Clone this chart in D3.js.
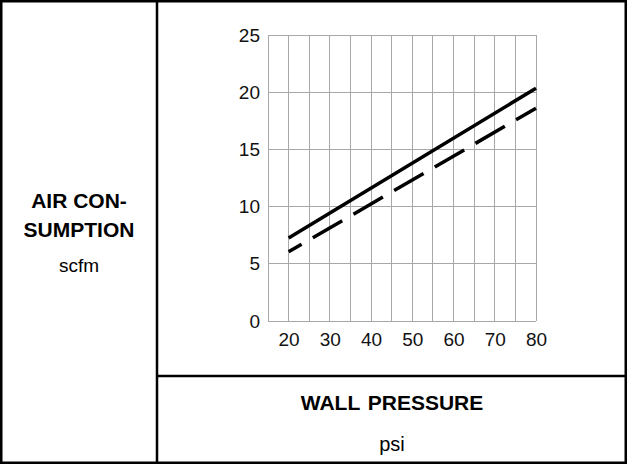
<!DOCTYPE html>
<html>
<head>
<meta charset="utf-8">
<script src="https://cdn.jsdelivr.net/npm/d3@7"></script>
<style>
  body { margin: 0; background: #fff; }
  svg { display: block; font-family: "Liberation Sans", Arial, sans-serif; }
</style>
</head>
<body>
<svg id="chart" width="627" height="464"></svg>
<script>
// data
var pressure = [20, 80];
var solidSeries = [7.25, 20.35];
var dashedSeries = [6.05, 18.6];
var xTicks = [20, 30, 40, 50, 60, 70, 80];
var yTicks = [0, 5, 10, 15, 20, 25];
var xGrid = d3.range(15, 81, 5);

var width = 627, height = 464;
var svg = d3.select('#chart');

var x = d3.scaleLinear().domain([15, 80]).range([268, 536]);
var y = d3.scaleLinear().domain([0, 25]).range([321, 35]);

// grid
var grid = svg.append('g')
  .attr('stroke', '#a8a8a8')
  .attr('stroke-width', 1)
  .attr('shape-rendering', 'crispEdges');

grid.selectAll('line.v')
  .data(xGrid)
  .enter().append('line')
    .attr('class', 'v')
    .attr('x1', d => x(d)).attr('x2', d => x(d))
    .attr('y1', y(0)).attr('y2', y(25));

grid.selectAll('line.h')
  .data(yTicks)
  .enter().append('line')
    .attr('class', 'h')
    .attr('x1', x(15)).attr('x2', x(80))
    .attr('y1', d => y(d)).attr('y2', d => y(d));

// axes (labels only)
var yAxis = svg.append('g')
  .attr('transform', 'translate(' + x(15) + ',0)')
  .call(d3.axisLeft(y).tickValues(yTicks).tickSize(0).tickPadding(8));

var xAxis = svg.append('g')
  .attr('transform', 'translate(0,' + y(0) + ')')
  .call(d3.axisBottom(x).tickValues(xTicks).tickSize(0).tickPadding(12));

[xAxis, yAxis].forEach(a => {
  a.select('.domain').remove();
  a.selectAll('text')
    .attr('font-family', '"Liberation Sans", Arial, sans-serif')
    .attr('font-size', 19)
    .attr('fill', '#111');
});

// lines
var line = d3.line()
  .x((d, i) => x(pressure[i]))
  .y(d => y(d));

svg.append('path')
  .datum(solidSeries)
  .attr('d', line)
  .attr('fill', 'none')
  .attr('stroke', '#000')
  .attr('stroke-width', 3.5);

svg.append('path')
  .datum(dashedSeries)
  .attr('d', line)
  .attr('fill', 'none')
  .attr('stroke', '#000')
  .attr('stroke-width', 3.5)
  .attr('stroke-dasharray', '34,13')
  .attr('stroke-dashoffset', 19);

// frame
var frame = svg.append('g')
  .attr('stroke', '#000')
  .attr('stroke-width', 2.5)
  .attr('fill', 'none');

frame.append('rect')
  .attr('x', 1.25).attr('y', 1.25)
  .attr('width', width - 2.5).attr('height', height - 2.5);
frame.append('line')
  .attr('x1', 157).attr('x2', 157)
  .attr('y1', 0).attr('y2', height);
frame.append('line')
  .attr('x1', 157).attr('x2', width)
  .attr('y1', 376).attr('y2', 376);

// titles
var leftX = 79, bottomX = (157 + width) / 2;

svg.append('text')
  .attr('x', leftX).attr('y', 208)
  .attr('text-anchor', 'middle')
  .attr('font-size', 21).attr('font-weight', 'bold')
  .text('AIR CON-');
svg.append('text')
  .attr('x', leftX).attr('y', 237)
  .attr('text-anchor', 'middle')
  .attr('font-size', 21).attr('font-weight', 'bold')
  .text('SUMPTION');
svg.append('text')
  .attr('x', leftX).attr('y', 272)
  .attr('text-anchor', 'middle')
  .attr('font-size', 19)
  .text('scfm');

svg.append('text')
  .attr('x', bottomX).attr('y', 410)
  .attr('text-anchor', 'middle')
  .attr('font-size', 21).attr('font-weight', 'bold')
  .attr('word-spacing', 2)
  .text('WALL PRESSURE');
svg.append('text')
  .attr('x', bottomX).attr('y', 451)
  .attr('text-anchor', 'middle')
  .attr('font-size', 20)
  .text('psi');
</script>
</body>
</html>
